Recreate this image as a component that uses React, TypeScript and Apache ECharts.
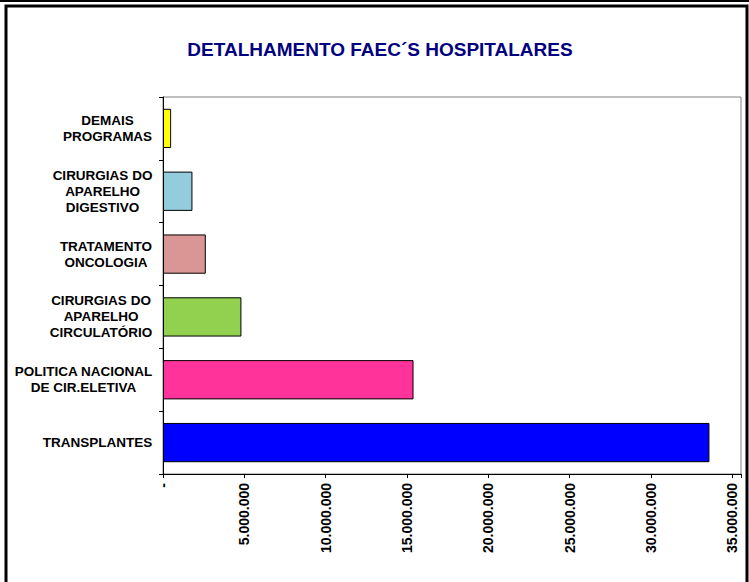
import React, { useEffect, useRef } from "react";
import * as echarts from "echarts";

const categories = [
  "TRANSPLANTES",
  "POLITICA NACIONAL\nDE CIR.ELETIVA",
  "CIRURGIAS DO\nAPARELHO\nCIRCULATÓRIO",
  "TRATAMENTO\nONCOLOGIA",
  "CIRURGIAS DO\nAPARELHO\nDIGESTIVO",
  "DEMAIS\nPROGRAMAS",
];
const values = [33590000, 15400000, 4820000, 2630000, 1810000, 500000];
const colors = ["#0000FF", "#FF3399", "#92D050", "#D99694", "#93CDDD", "#FFFF00"];
const titleText = "DETALHAMENTO FAEC´S HOSPITALARES";

const FONT = "'Liberation Sans', Arial, sans-serif";
const LABEL_SIZE = 13.5;

function measure(text: string): number {
  const c = document.createElement("canvas").getContext("2d");
  if (!c) return text.length * 8;
  c.font = `bold ${LABEL_SIZE}px 'Liberation Sans', Arial, sans-serif`;
  return c.measureText(text).width;
}

function fmt(v: number): string {
  if (v === 0) return "-";
  if (v % 5000000 !== 0) return "";
  return String(v).replace(/\B(?=(\d{3})+(?!\d))/g, ".");
}

export default function App() {
  const ref = useRef<HTMLDivElement>(null);
  useEffect(() => {
    if (!ref.current) return;
    const chart = echarts.init(ref.current, undefined, { renderer: "svg" });
    const rich: Record<string, any> = {};
    categories.forEach((c, i) => {
      const w = Math.max(...c.split("\n").map(measure));
      rich["l" + i] = {
        width: Math.ceil(w) + 1,
        align: "center",
        fontWeight: "bold",
        fontSize: LABEL_SIZE,
        fontFamily: FONT,
        color: "#000",
        lineHeight: 16,
      };
    });
    chart.setOption({
      animation: false,
      backgroundColor: "#fff",
      title: {
        text: titleText,
        left: 375,
        top: 35,
        textAlign: "center",
        textStyle: { color: "#000080", fontSize: 19, fontWeight: "bold", fontFamily: FONT },
      },
      grid: {
        left: 163,
        top: 97,
        right: 8,
        bottom: 108,
        show: true,
        borderColor: "#808080",
        borderWidth: 1,
        backgroundColor: "#fff",
      },
      xAxis: {
        type: "value",
        min: 0,
        max: 35530000,
        interval: 5000000,
        splitLine: { show: false },
        axisLine: { show: true, lineStyle: { color: "#000", width: 1 } },
        axisTick: { show: true, length: 4, lineStyle: { color: "#000" } },
        axisLabel: {
          rotate: 90,
          margin: 9,
          formatter: (v: number) => fmt(v),
          fontWeight: "bold",
          fontSize: 14,
          fontFamily: FONT,
          color: "#000",
          showMaxLabel: true,
        },
      },
      yAxis: {
        type: "category",
        data: categories,
        axisLine: { show: true, lineStyle: { color: "#000", width: 1 } },
        axisTick: { show: true, length: 4, lineStyle: { color: "#000" } },
        axisLabel: {
          margin: 10,
          align: "right",
          formatter: (v: string) => {
            const i = categories.indexOf(v);
            return v
              .split("\n")
              .map((s) => `{l${i}|${s}}`)
              .join("\n");
          },
          rich,
        },
      },
      series: [
        {
          type: "bar",
          barWidth: "62.5%",
          data: values.map((v, i) => ({
            value: v,
            itemStyle: { color: colors[i], borderColor: "#000", borderWidth: 1 },
          })),
        },
      ],
      graphic: [
        {
          type: "rect",
          shape: { x: 6, y: 6, width: 741, height: 590 },
          style: { fill: "none", stroke: "#000", lineWidth: 3 },
          silent: true,
        },
        {
          type: "line",
          shape: { x1: 0, y1: 1, x2: 749, y2: 1 },
          style: { stroke: "#000", lineWidth: 2 },
          silent: true,
        },
      ],
    });
    return () => chart.dispose();
  }, []);
  return (
    <div
      ref={ref}
      style={{ position: "fixed", left: 0, top: 0, width: 749, height: 582 }}
    />
  );
}
